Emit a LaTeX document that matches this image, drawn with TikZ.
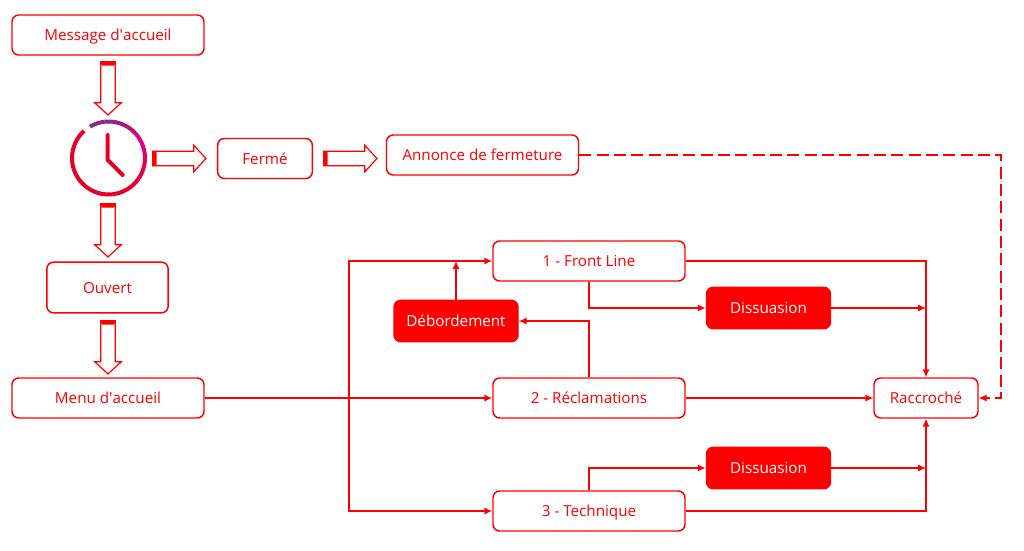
\documentclass[tikz,border=0pt]{standalone}
\usepackage{fontspec}
\setmainfont{Open Sans}
\usetikzlibrary{arrows.meta,shapes.arrows,calc}
\definecolor{clockred}{RGB}{226,0,38}
\definecolor{clockpink}{RGB}{222,0,120}
\definecolor{clockpurple}{RGB}{140,40,140}
\tikzset{
	linebox/.style={draw=red,line width=1.1pt,rounded corners=5pt,text=red,font=\fontsize{11.4}{13}\selectfont,minimum height=30pt,inner sep=0pt,text height=9.4pt,text depth=0.6pt},
	solidbox/.style={linebox,fill=red,text=white,minimum width=93pt,minimum height=31pt},
	link/.style={draw=red,line width=1.1pt,-{Latex[length=6pt,width=5.5pt]}},
	blockarrow/.style={single arrow,draw=red,line width=0.9pt,fill=white,inner sep=5pt,text height=0pt,text depth=0pt,minimum width=19.5pt,minimum height=40pt,single arrow head extend=4.5pt,single arrow tip angle=95,single arrow head indent=0pt,anchor=tail},
}
\begin{document}
\begin{tikzpicture}[x=0.75pt,y=0.75pt,yscale=-1,xscale=1]
	\useasboundingbox (0,0) rectangle (1024,550);

	% boxes on the left
	\node [linebox,minimum width=144pt] (accueil) at (108,35) {Message d\textquotesingle accueil};
	\node [linebox,minimum width=91pt,minimum height=38pt] (ouvert) at (107.5,287.5) {Ouvert};
	\node [linebox,minimum width=144pt] (menu) at (108,398) {Menu d\textquotesingle accueil};
	% closed branch
	\node [linebox,minimum width=71pt] (ferme) at (265,158.5) {Fermé};
	\node [linebox,minimum width=144pt] (annonce) at (482.5,155) {Annonce de fermeture};
	% queues
	\node [linebox,minimum width=144pt] (front) at (589,261) {1 - Front Line};
	\node [linebox,minimum width=144pt] (reclam) at (589,398) {2 - Réclamations};
	\node [linebox,minimum width=144pt] (tech) at (589,511) {3 - Technique};
	\node [solidbox] (debord) at (456,321) {Débordement};
	\node [solidbox] (dissA) at (768.5,308) {Dissuasion};
	\node [solidbox] (dissB) at (768.5,468) {Dissuasion};
	\node [linebox,minimum width=78pt] (raccroche) at (926,398) {Raccroché};

	% block arrows
	\foreach \nm/\x/\y/\ang in {arrA/108/61/-90,arrB/108/203/-90,arrC/108/320/-90,arrD/152/158.5/0,arrE/323/158.5/0}{
		\node [blockarrow,rotate=\ang] (\nm) at (\x,\y) {};
		\fill [red] (\nm.before tail) -- (\nm.after tail) -- ($(\nm.after tail)!0.11!(\nm.after head)$) -- ($(\nm.before tail)!0.11!(\nm.before head)$) -- cycle;
	}

	% clock
	\foreach \a [evaluate=\a as \mixA using {min(100,max(0,(\a-20)*1.6))},evaluate=\a as \mixB using {min(100,max(0,(\a+60)*1.25))}] in {-228,-222,...,-6,0,6,...,114}{
		\ifdim \a pt<0pt
			\colorlet{clockseg}{clockpink!\mixB!clockred}
		\else
			\colorlet{clockseg}{clockpurple!\mixA!clockpink}
		\fi
		\draw [clockseg,line width=3pt] ($(108.5,158)+(-\a:36.5)$) arc [start angle=-\a,delta angle=-6.5,radius=36.5];
	}
	\draw [clockred,line width=3pt,line cap=round,line join=round] (107.7,135) -- (107.7,160) -- (122.7,175);

	% connectors from the menu
	\coordinate (busA) at (349,398);
	\draw [link] (menu) -- (reclam);
	\draw [link] (menu.east) -- (busA) |- (front.west);
	\draw [link] (menu.east) -- (busA) |- (tech.west);
	% overflow
	\draw [link] (reclam.north) |- (debord.east);
	\coordinate (debTop) at (front.west -| debord.north);
	\draw [link] (debord.north) -- (debTop);
	% towards hang up
	\coordinate (hangA) at (dissA.east -| raccroche.north);
	\coordinate (hangB) at (dissB.east -| raccroche.south);
	\draw [link] (front.east) -| (raccroche.north);
	\draw [link] (front.south) |- (dissA.west);
	\draw [link] (dissA.east) -- (hangA);
	\draw [link] (reclam) -- (raccroche);
	\draw [link] (tech.north) |- (dissB.west);
	\draw [link] (dissB.east) -- (hangB);
	\draw [link] (tech.east) -| (raccroche.south);
	% closed line, dashed
	\coordinate (dashA) at (1001,155);
	\coordinate (dashB) at (1001,398);
	\draw [link,dash pattern={on 9pt off 4pt}] (annonce.east) -- (dashA) -- (dashB) -- (raccroche.east);
\end{tikzpicture}
\end{document}
